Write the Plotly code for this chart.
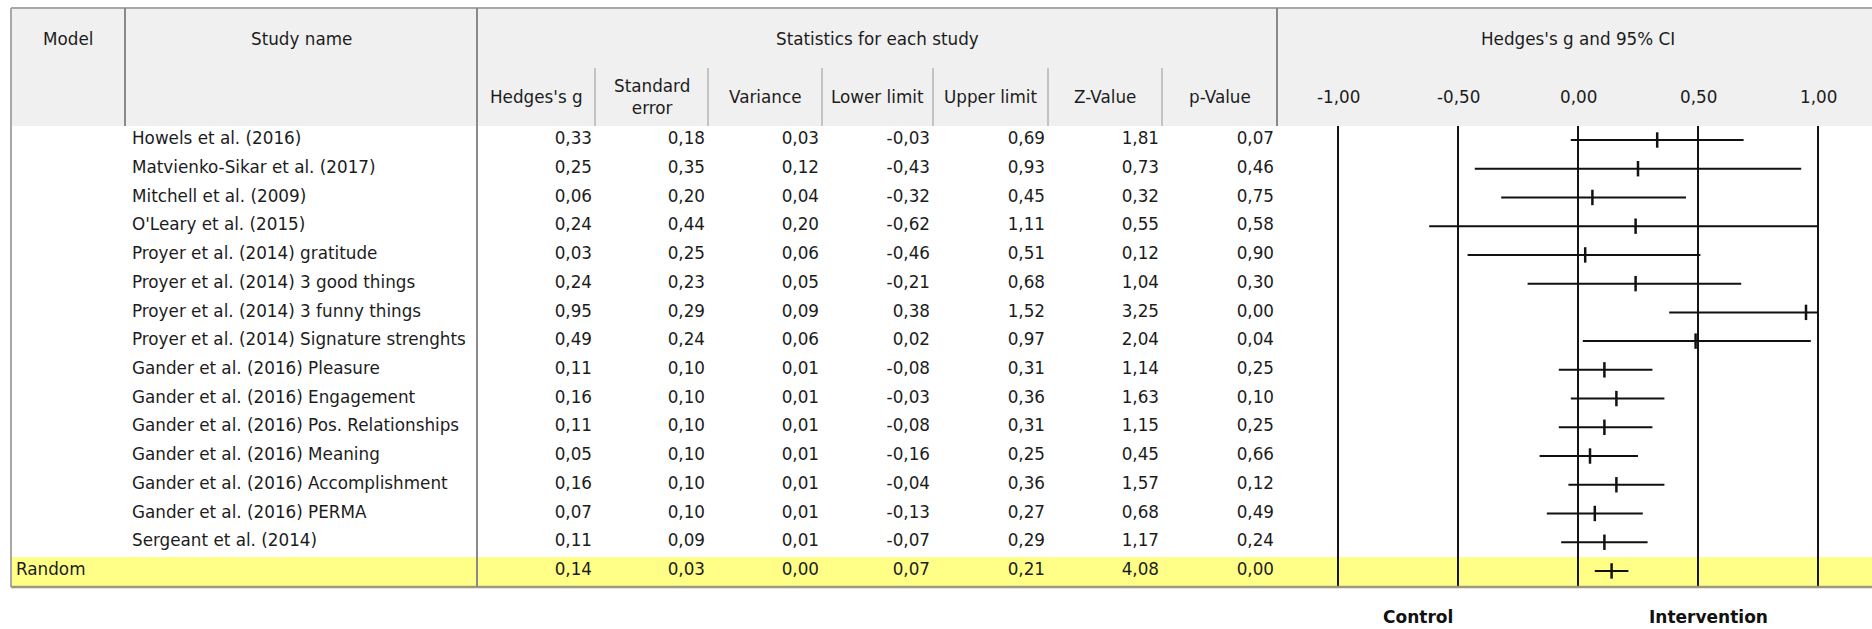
import plotly.graph_objects as go

# ---- data -------------------------------------------------------------
studies = [
    "Howels et al. (2016)",
    "Matvienko-Sikar et al. (2017)",
    "Mitchell et al. (2009)",
    "O'Leary et al. (2015)",
    "Proyer et al. (2014) gratitude",
    "Proyer et al. (2014) 3 good things",
    "Proyer et al. (2014) 3 funny things",
    "Proyer et al. (2014) Signature strenghts",
    "Gander et al. (2016) Pleasure",
    "Gander et al. (2016) Engagement",
    "Gander et al. (2016) Pos. Relationships",
    "Gander et al. (2016) Meaning",
    "Gander et al. (2016) Accomplishment",
    "Gander et al. (2016) PERMA",
    "Sergeant et al. (2014)",
]
hedges_g = [0.33, 0.25, 0.06, 0.24, 0.03, 0.24, 0.95, 0.49, 0.11, 0.16, 0.11, 0.05, 0.16, 0.07, 0.11]
std_err = [0.18, 0.35, 0.20, 0.44, 0.25, 0.23, 0.29, 0.24, 0.10, 0.10, 0.10, 0.10, 0.10, 0.10, 0.09]
variance = [0.03, 0.12, 0.04, 0.20, 0.06, 0.05, 0.09, 0.06, 0.01, 0.01, 0.01, 0.01, 0.01, 0.01, 0.01]
lower = [-0.03, -0.43, -0.32, -0.62, -0.46, -0.21, 0.38, 0.02, -0.08, -0.03, -0.08, -0.16, -0.04, -0.13, -0.07]
upper = [0.69, 0.93, 0.45, 1.11, 0.51, 0.68, 1.52, 0.97, 0.31, 0.36, 0.31, 0.25, 0.36, 0.27, 0.29]
z_value = [1.81, 0.73, 0.32, 0.55, 0.12, 1.04, 3.25, 2.04, 1.14, 1.63, 1.15, 0.45, 1.57, 0.68, 1.17]
p_value = [0.07, 0.46, 0.75, 0.58, 0.90, 0.30, 0.00, 0.04, 0.25, 0.10, 0.25, 0.66, 0.12, 0.49, 0.24]

model_label = "Random"
random_g = 0.14
random_se = 0.03
random_var = 0.00
random_lower = 0.07
random_upper = 0.21
random_z = 4.08
random_p = 0.00

stat_headers = ["Hedges's g", "Standard<br>error", "Variance", "Lower limit",
                "Upper limit", "Z-Value", "p-Value"]
forest_ticks = [-1.0, -0.5, 0.0, 0.5, 1.0]
forest_limits = (-1.0, 1.0)

# ---- layout geometry (pixels) -----------------------------------------
W, H = 1872, 629
TABLE_L, TABLE_T = 11, 8
HEAD_B = 126
TABLE_B = 587
SUB_T = 68
ROW0_Y, ROW_H = 140, 28.73
MODEL_R = 125
NAME_R = 477
col_edges = [477, 595, 708, 822, 933, 1048, 1162, 1277]
FOREST_L = 1277
ZERO_PX, PX_PER_UNIT = 1578, 240.0

FONT = "DejaVu Sans"
FSIZE = 16.8
TXT = "#1c1c1c"
HEAD_BG = "#f0f0f0"
YELLOW = "#ffff88"


def pyp(p):
    """pixel row -> paper y"""
    return 1 - p / H


def fmt(v):
    return f"{v:.2f}".replace(".", ",")


def row_of(p):
    return (p - ROW0_Y) / ROW_H


fig = go.Figure()

n = len(studies)
rows = list(range(n))
rand_row = n

# ---- table text ----------------------------------------------------------
fig.add_trace(go.Scatter(
    x=[132] * n, y=rows, text=studies, mode="text",
    textposition="middle right", xaxis="x", yaxis="y",
    textfont=dict(family=FONT, size=FSIZE, color=TXT), hoverinfo="skip",
    cliponaxis=False))
fig.add_trace(go.Scatter(
    x=[16], y=[rand_row], text=[model_label], mode="text",
    textposition="middle right", xaxis="x", yaxis="y",
    textfont=dict(family=FONT, size=FSIZE, color=TXT), hoverinfo="skip",
    cliponaxis=False))

columns = [
    (hedges_g, random_g),
    (std_err, random_se),
    (variance, random_var),
    (lower, random_lower),
    (upper, random_upper),
    (z_value, random_z),
    (p_value, random_p),
]
for ci, (vals, rv) in enumerate(columns):
    right = col_edges[ci + 1] - 3
    fig.add_trace(go.Scatter(
        x=[right] * (n + 1), y=rows + [rand_row],
        text=[fmt(v) for v in vals] + [fmt(rv)], mode="text",
        textposition="middle left", xaxis="x", yaxis="y",
        textfont=dict(family=FONT, size=FSIZE, color=TXT), hoverinfo="skip",
        cliponaxis=False))

# ---- forest plot ------------------------------------------------------------
all_g = hedges_g + [random_g]
all_lo = lower + [random_lower]
all_hi = upper + [random_upper]
lx, ly = [], []
for i, (lo, hi) in enumerate(zip(all_lo, all_hi)):
    lx += [max(lo, forest_limits[0]), min(hi, forest_limits[1]), None]
    ly += [i, i, None]
fig.add_trace(go.Scatter(
    x=lx, y=ly, mode="lines", xaxis="x2", yaxis="y",
    line=dict(color="#111111", width=2), hoverinfo="skip"))
fig.add_trace(go.Scatter(
    x=all_g, y=list(range(n + 1)), mode="markers", xaxis="x2", yaxis="y",
    marker=dict(symbol="line-ns-open", size=11, color="#111111",
                line=dict(color="#111111", width=2.5)),
    hoverinfo="skip"))

# ---- shapes -----------------------------------------------------------------
shapes = []
# header background
shapes.append(dict(type="rect", xref="x", yref="paper", x0=TABLE_L, x1=W,
                   y0=pyp(TABLE_T), y1=pyp(HEAD_B), fillcolor=HEAD_BG,
                   line=dict(width=0), layer="below"))
# pooled row highlight
shapes.append(dict(type="rect", xref="x", yref="paper", x0=TABLE_L, x1=W,
                   y0=pyp(557), y1=pyp(TABLE_B), fillcolor=YELLOW,
                   line=dict(width=0), layer="below"))
# outer borders
shapes.append(dict(type="line", xref="x", yref="paper", x0=TABLE_L, x1=W,
                   y0=pyp(TABLE_T), y1=pyp(TABLE_T),
                   line=dict(color="#a8a8a8", width=2)))
shapes.append(dict(type="line", xref="x", yref="paper", x0=TABLE_L, x1=TABLE_L,
                   y0=pyp(TABLE_T), y1=pyp(TABLE_B),
                   line=dict(color="#a8a8a8", width=2)))
shapes.append(dict(type="line", xref="x", yref="paper", x0=TABLE_L, x1=W,
                   y0=pyp(TABLE_B), y1=pyp(TABLE_B),
                   line=dict(color="#9c9a7c", width=2.5)))
# header dividers
shapes.append(dict(type="line", xref="x", yref="paper", x0=MODEL_R, x1=MODEL_R,
                   y0=pyp(TABLE_T), y1=pyp(HEAD_B),
                   line=dict(color="#8a8a8a", width=2)))
shapes.append(dict(type="line", xref="x", yref="paper", x0=NAME_R, x1=NAME_R,
                   y0=pyp(TABLE_T), y1=pyp(TABLE_B),
                   line=dict(color="#8a8a8a", width=2)))
shapes.append(dict(type="line", xref="x", yref="paper", x0=FOREST_L, x1=FOREST_L,
                   y0=pyp(TABLE_T), y1=pyp(HEAD_B),
                   line=dict(color="#8a8a8a", width=2)))
for xe in col_edges[1:-1]:
    shapes.append(dict(type="line", xref="x", yref="paper", x0=xe, x1=xe,
                       y0=pyp(SUB_T), y1=pyp(HEAD_B),
                       line=dict(color="#b4b4b4", width=1.5)))
# forest reference lines
for t in forest_ticks:
    shapes.append(dict(type="line", xref="x2", yref="paper", x0=t, x1=t,
                       y0=pyp(HEAD_B), y1=pyp(TABLE_B),
                       line=dict(color="#151515", width=2), layer="below"))

# ---- annotations ------------------------------------------------------------
ann = []


def head(text, x, y, xref="x", size=FSIZE, bold=False):
    ann.append(dict(text=f"<b>{text}</b>" if bold else text, x=x, y=pyp(y),
                    xref=xref, yref="paper", showarrow=False,
                    xanchor="center", yanchor="middle",
                    font=dict(family=FONT, size=size, color=TXT)))


head("Model", (TABLE_L + MODEL_R) / 2, 39)
head("Study name", (MODEL_R + NAME_R) / 2, 39)
head("Statistics for each study", (NAME_R + FOREST_L) / 2, 39)
head("Hedges's g and 95% CI", 0.0, 39, xref="x2")
for i, h in enumerate(stat_headers):
    head(h, (col_edges[i] + col_edges[i + 1]) / 2, 97)
for t in forest_ticks:
    head(fmt(t), t, 97, xref="x2")
ann.append(dict(text="<b>Control</b>", x=1418, y=pyp(617), xref="x", yref="paper",
                showarrow=False, xanchor="center", yanchor="middle",
                font=dict(family=FONT, size=17, color="#111111")))
ann.append(dict(text="<b>Intervention</b>", x=1708, y=pyp(617), xref="x",
                yref="paper", showarrow=False, xanchor="center",
                yanchor="middle",
                font=dict(family=FONT, size=17, color="#111111")))

fig.update_layout(
    width=W, height=H, margin=dict(l=0, r=0, t=0, b=0),
    paper_bgcolor="white", plot_bgcolor="rgba(0,0,0,0)",
    showlegend=False, shapes=shapes, annotations=ann,
    xaxis=dict(domain=[0, 1], range=[0, W], visible=False, fixedrange=True),
    xaxis2=dict(domain=[FOREST_L / W, 1], anchor="y",
                range=[(FOREST_L - ZERO_PX) / PX_PER_UNIT, (W - ZERO_PX) / PX_PER_UNIT],
                visible=False, fixedrange=True),
    yaxis=dict(domain=[0, 1], range=[row_of(H), row_of(0)], visible=False,
               fixedrange=True),
)

fig.write_html("out.html")
